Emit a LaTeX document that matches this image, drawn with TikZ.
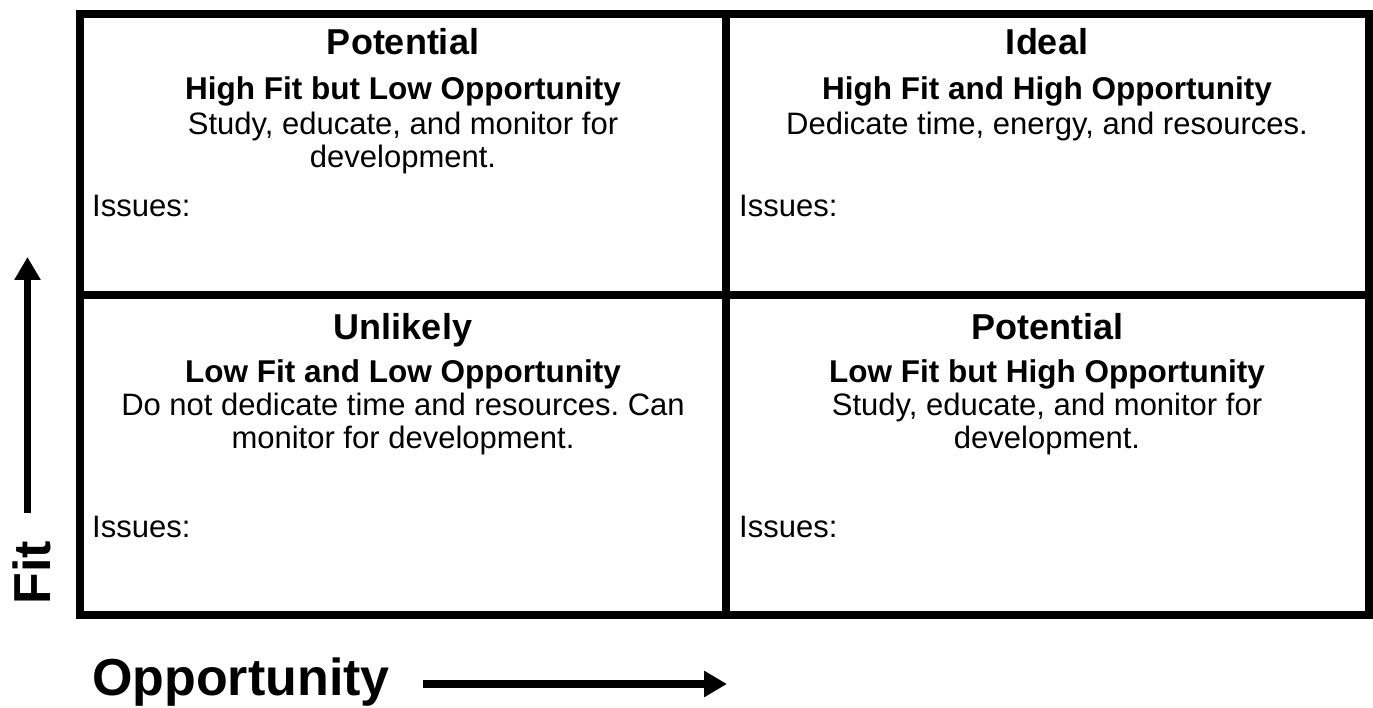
\documentclass[tikz,border=0pt]{standalone}
\usepackage{fontspec}
\setmainfont{Liberation Sans}
\usetikzlibrary{arrows.meta}
\frenchspacing
\begin{document}
\begin{tikzpicture}[x=1pt,y=-1pt,
  gridline/.style={line width=8pt},
  title/.style={anchor=base,inner sep=0pt,font=\fontsize{36}{40}\selectfont\bfseries},
  subtitle/.style={anchor=base,inner sep=0pt,font=\fontsize{31.5}{34}\selectfont\bfseries},
  body/.style={anchor=base,inner sep=0pt,font=\fontsize{31}{34}\selectfont},
  issues/.style={anchor=base west,inner sep=0pt,font=\fontsize{31}{34}\selectfont},
  axisarrow/.style={line width=7.5pt,-{Triangle[length=23pt,width=25pt]}},
  axislabel/.style={inner sep=0pt,font=\fontsize{52}{56}\selectfont\bfseries}]
\useasboundingbox (0,0) rectangle (1373,708);

% quadrant grid
\coordinate (nw) at (80,14);
\coordinate (se) at (1369,615);
\coordinate (midtop) at (726,14);
\coordinate (midbot) at (726,615);
\coordinate (midleft) at (80,295);
\coordinate (midright) at (1369,295);
\draw[gridline] (nw) rectangle (se);
\draw[gridline] (midtop) -- (midbot);
\draw[gridline] (midleft) -- (midright);

% top left: high fit, low opportunity
\node[title]    (tlT) at (403,55)  {Potential};
\node[subtitle] (tlS) at (403,100) {High Fit but Low Opportunity};
\node[body]     (tlB1) at (403,135) {Study, educate, and monitor for};
\node[body]     (tlB2) at (403,168) {development.};
\node[issues]   (tlI) at (92,217) {Issues:};

% top right: high fit, high opportunity
\node[title]    (trT) at (1047,55)  {Ideal};
\node[subtitle] (trS) at (1047,100) {High Fit and High Opportunity};
\node[body]     (trB1) at (1047,135) {Dedicate time, energy, and resources.};
\node[issues]   (trI) at (739,217) {Issues:};

% bottom left: low fit, low opportunity
\node[title]    (blT) at (403,340) {Unlikely};
\node[subtitle] (blS) at (403,382) {Low Fit and Low Opportunity};
\node[body]     (blB1) at (403,415) {Do not dedicate time and resources. Can};
\node[body]     (blB2) at (403,448) {monitor for development.};
\node[issues]   (blI) at (92,537) {Issues:};

% bottom right: low fit, high opportunity
\node[title]    (brT) at (1047,340) {Potential};
\node[subtitle] (brS) at (1047,382) {Low Fit but High Opportunity};
\node[body]     (brB1) at (1047,415) {Study, educate, and monitor for};
\node[body]     (brB2) at (1047,448) {development.};
\node[issues]   (brI) at (739,537) {Issues:};

% axes
\coordinate (fitfrom) at (27.5,513);
\coordinate (fitto) at (27.5,257);
\draw[axisarrow] (fitfrom) -- (fitto);
\node[axislabel,rotate=90,anchor=base] (fit) at (50,573) {Fit};

\node[axislabel,anchor=base west] (opp) at (92,695) {Opportunity};
\coordinate (oppfrom) at (423,684);
\coordinate (oppto) at (727,684);
\draw[axisarrow] (oppfrom) -- (oppto);
\end{tikzpicture}
\end{document}
